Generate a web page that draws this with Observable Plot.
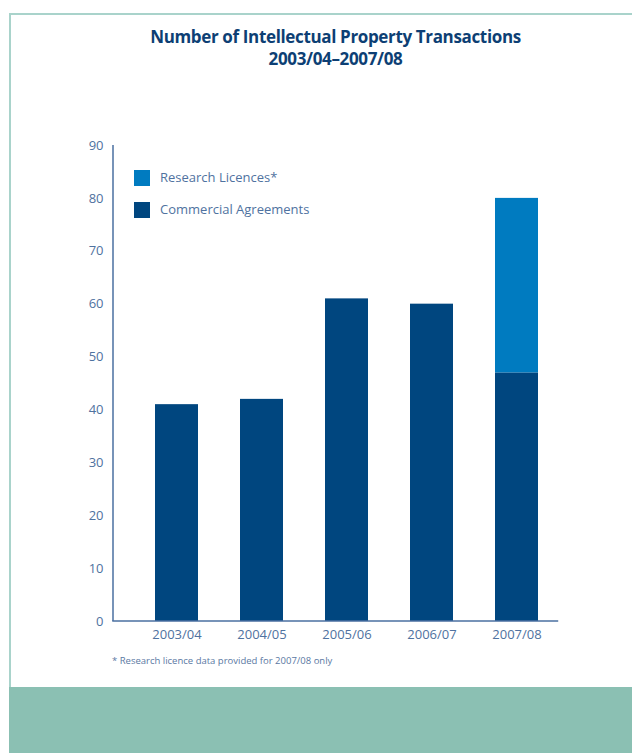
<!DOCTYPE html>
<html>
<head>
<meta charset="utf-8">
<script src="https://cdn.jsdelivr.net/npm/d3@7"></script>
<script src="https://cdn.jsdelivr.net/npm/@observablehq/plot@0.6"></script>
<style>
  html, body { margin: 0; padding: 0; background: #fff; }
  #page { position: relative; width: 632px; height: 753px; overflow: hidden; background: #fff; font-family: "Open Sans", sans-serif; }
  .border-top { position: absolute; left: 9px; top: 13px; width: 623px; height: 2px; background: #a9d3cb; }
  .border-left { position: absolute; left: 9px; top: 13px; width: 2px; height: 680px; background: #a9d3cb; }
  .band { position: absolute; left: 9px; top: 687px; width: 623px; height: 66px; background: #8bc0b3; }
  .title { position: absolute; left: 24px; width: 623px; top: 26px; text-align: center; color: #0d3f74; font-family: "Open Sans", sans-serif; font-weight: 700; font-size: 17px; line-height: 22px; letter-spacing: -0.35px; }
  #chart { position: absolute; left: 0; top: 0; }
  .legend { position: absolute; left: 134px; font-size: 13px; color: #4f72a0; }
  .legend .row { position: absolute; left: 0; white-space: nowrap; height: 16px; line-height: 16px; }
  .legend .sw { position: absolute; left: 0; top: 0; width: 16px; height: 16px; }
  .legend .lbl { position: absolute; left: 26px; top: -1px; }
  .note { position: absolute; left: 112px; top: 654px; font-size: 9.5px; color: #5a78a3; white-space: nowrap; }
</style>
</head>
<body>
<div id="page">
  <div class="border-top"></div>
  <div class="border-left"></div>
  <div class="band"></div>
  <div class="title">Number of Intellectual Property Transactions<br>2003/04–2007/08</div>
  <div id="chart"></div>
  <div class="legend" id="legend"></div>
  <div class="note">* Research licence data provided for 2007/08 only</div>
</div>
<script>
const years = ["2003/04", "2004/05", "2005/06", "2006/07", "2007/08"];
const commercialAgreements = [41, 42, 61, 60, 47];
const researchLicences = [null, null, null, null, 33];
const seriesNames = ["Commercial Agreements", "Research Licences*"];
const seriesColors = ["#00467f", "#007bc0"];
const yTicks = [0, 10, 20, 30, 40, 50, 60, 70, 80, 90];

const rows = [];
years.forEach((y, i) => {
  rows.push({year: y, series: seriesNames[0], value: commercialAgreements[i]});
  if (researchLicences[i] != null) rows.push({year: y, series: seriesNames[1], value: researchLicences[i]});
});

const axisColor = "#4a6fa0";
const textColor = "#4f72a0";
const mLeft = 113, mRight = 52, mTop = 145, mBottom = 132;

const chart = Plot.plot({
  width: 632,
  height: 753,
  marginTop: mTop,
  marginBottom: mBottom,
  marginLeft: mLeft,
  marginRight: mRight,
  style: {background: "transparent", fontFamily: "Open Sans, sans-serif", fontSize: "13px", color: textColor},
  x: {domain: years, paddingInner: 0.49, paddingOuter: 0.49, label: null, tickSize: 0, tickPadding: 8},
  y: {domain: [0, 90], ticks: yTicks, label: null, tickSize: 0, tickPadding: 10},
  color: {domain: seriesNames, range: seriesColors},
  marks: [
    Plot.barY(rows, Plot.stackY({x: "year", y: "value", fill: "series", order: seriesNames}))
  ]
});
document.getElementById("chart").appendChild(chart);
chart.querySelectorAll("g[aria-label='x-axis tick label'] text, g[aria-label='y-axis tick label'] text").forEach(t => t.setAttribute("fill", textColor));

// axis lines drawn from the plot's own scales
const ys = chart.scale("y");
const xs = chart.scale("x");
const x0 = mLeft;
const lastBandEnd = xs.apply(years[years.length - 1]) + xs.bandwidth;
const x1 = lastBandEnd + xs.bandwidth * 0.47;
const svg = d3.select(chart);
svg.append("line")
  .attr("x1", x0).attr("x2", x0)
  .attr("y1", ys.apply(90)).attr("y2", ys.apply(0))
  .attr("stroke", axisColor).attr("stroke-width", 1.5);
svg.append("line")
  .attr("x1", x0 - 0.75).attr("x2", x1)
  .attr("y1", ys.apply(0)).attr("y2", ys.apply(0))
  .attr("stroke", axisColor).attr("stroke-width", 1.5);

const legendItems = [
  {name: seriesNames[1], color: seriesColors[1], top: 170},
  {name: seriesNames[0], color: seriesColors[0], top: 202}
];
const leg = document.getElementById("legend");
legendItems.forEach(it => {
  const r = document.createElement("div");
  r.className = "row";
  r.style.top = it.top + "px";
  r.innerHTML = `<span class="sw" style="background:${it.color}"></span><span class="lbl">${it.name}</span>`;
  leg.appendChild(r);
});
</script>
</body>
</html>
